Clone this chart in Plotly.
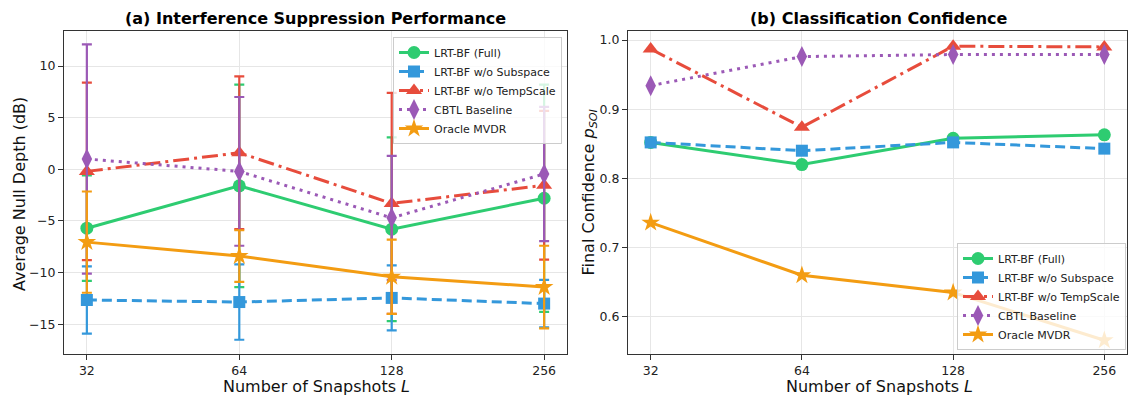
import plotly.graph_objects as go

snapshots = [32, 64, 128, 256]
tick_labels = ["32", "64", "128", "256"]
series_names = ["LRT-BF (Full)", "LRT-BF w/o Subspace", "LRT-BF w/o TempScale", "CBTL Baseline", "Oracle MVDR"]

# (a) Average null depth (dB) and error bars
null_full = [-5.7, -1.6, -5.8, -2.8]
null_full_err = [5.1, 9.8, 8.9, 11.0]
null_nosub = [-12.65, -12.85, -12.45, -13.0]
null_nosub_err = [3.25, 3.65, 3.15, 2.3]
null_notemp = [-0.2, 1.6, -3.3, -1.55]
null_notemp_err = [8.6, 7.4, 10.7, 7.2]
null_cbtl = [1.0, -0.2, -4.7, -0.45]
null_cbtl_err = [11.1, 7.2, 6.0, 6.5]
null_oracle = [-7.05, -8.4, -10.4, -11.4]
null_oracle_err = [4.9, 2.5, 3.6, 4.0]

# (b) Final confidence p_SOI
conf_full = [0.852, 0.820, 0.858, 0.863]
conf_nosub = [0.852, 0.840, 0.852, 0.843]
conf_notemp = [0.987, 0.874, 0.991, 0.990]
conf_cbtl = [0.934, 0.976, 0.979, 0.979]
conf_oracle = [0.736, 0.660, 0.635, 0.566]

colors = ["#2ecc71", "#3498db", "#e74c3c", "#9b59b6", "#f39c12"]
dashes = ["solid", "10px,5px", "16px,5px,3px,5px", "3px,5px", "solid"]
symbols = ["circle", "square", "triangle-up", "diamond-tall", "star"]
msizes = [13, 12, 14, 15, 14]

null_vals = [null_full, null_nosub, null_notemp, null_cbtl, null_oracle]
null_errs = [null_full_err, null_nosub_err, null_notemp_err, null_cbtl_err, null_oracle_err]
conf_vals = [conf_full, conf_nosub, conf_notemp, conf_cbtl, conf_oracle]

W, H = 1128, 397
FONT = "DejaVu Sans"

fig = go.Figure()
for i, name in enumerate(series_names):
    fig.add_trace(go.Scatter(
        x=snapshots, y=null_vals[i], name=name, mode="lines+markers",
        line=dict(color=colors[i], width=3, dash=dashes[i]),
        marker=dict(symbol=symbols[i], size=msizes[i], color=colors[i], line=dict(width=0)),
        error_y=dict(type="data", array=null_errs[i], visible=True, color=colors[i], thickness=2.2, width=5),
        xaxis="x", yaxis="y", legend="legend",
    ))
for i, name in enumerate(series_names):
    fig.add_trace(go.Scatter(
        x=snapshots, y=conf_vals[i], name=name, mode="lines+markers",
        line=dict(color=colors[i], width=3, dash=dashes[i]),
        marker=dict(symbol=symbols[i], size=msizes[i], color=colors[i], line=dict(width=0)),
        xaxis="x2", yaxis="y2", legend="legend2",
    ))

def px_x(p):
    return p / W

def px_y(p):
    return 1 - p / H

ydom = [px_y(354), px_y(31)]
axis_common = dict(
    showline=True, linecolor="#333", linewidth=1.2, mirror=True,
    ticks="outside", ticklen=5, tickwidth=1.2, tickcolor="#333",
    showgrid=True, gridcolor="#e6e6e6", gridwidth=1, zeroline=False,
    tickfont=dict(family=FONT, size=12.5, color="#222"),
)
xr = [4.85 * 0.30103, 8.15 * 0.30103]

legend_common = dict(
    bgcolor="rgba(255,255,255,0.8)", bordercolor="#cccccc", borderwidth=1,
    font=dict(family=FONT, size=11, color="#222"), tracegroupgap=0, itemwidth=30,
)

fig.update_layout(
    width=W, height=H,
    margin=dict(l=0, r=0, t=0, b=0),
    paper_bgcolor="white", plot_bgcolor="white",
    font=dict(family=FONT, size=12, color="#222"),
    xaxis=dict(domain=[px_x(64), px_x(567)], type="log", range=xr,
               tickvals=snapshots, ticktext=tick_labels, anchor="y", **axis_common),
    yaxis=dict(domain=ydom, range=[-17.88, 13.39], dtick=5, tick0=0, anchor="x", **axis_common),
    xaxis2=dict(domain=[px_x(628), px_x(1127)], type="log", range=xr,
                tickvals=snapshots, ticktext=tick_labels, anchor="y2", **axis_common),
    yaxis2=dict(domain=ydom, range=[0.5462, 1.013], dtick=0.1, tick0=0, tickformat=".1f",
                anchor="x2", **axis_common),
    legend=dict(x=px_x(562), y=px_y(37), xanchor="right", yanchor="top", **legend_common),
    legend2=dict(x=px_x(1126), y=px_y(350), xanchor="right", yanchor="bottom", **legend_common),
    showlegend=True,
)

anns = [
    dict(text="<b>(a) Interference Suppression Performance</b>", x=px_x(315.5), y=px_y(19),
         font=dict(size=16, color="#000")),
    dict(text="<b>(b) Classification Confidence</b>", x=px_x(879), y=px_y(19),
         font=dict(size=16, color="#000")),
    dict(text="Number of Snapshots <i>L</i>", x=px_x(316), y=px_y(386),
         font=dict(size=16, color="#111")),
    dict(text="Number of Snapshots <i>L</i>", x=px_x(879), y=px_y(386),
         font=dict(size=16, color="#111")),
    dict(text="Average Null Depth (dB)", x=px_x(19), y=px_y(194), textangle=-90,
         font=dict(size=16, color="#111")),
    dict(text="Final Confidence <i>p</i><sub><i>SOI</i></sub>", x=px_x(589), y=px_y(192.5), textangle=-90,
         font=dict(size=16, color="#111")),
]
for a in anns:
    a.update(xref="paper", yref="paper", showarrow=False, xanchor="center", yanchor="middle")
    a["font"]["family"] = FONT
fig.update_layout(annotations=anns)

fig.write_html("out.html")
